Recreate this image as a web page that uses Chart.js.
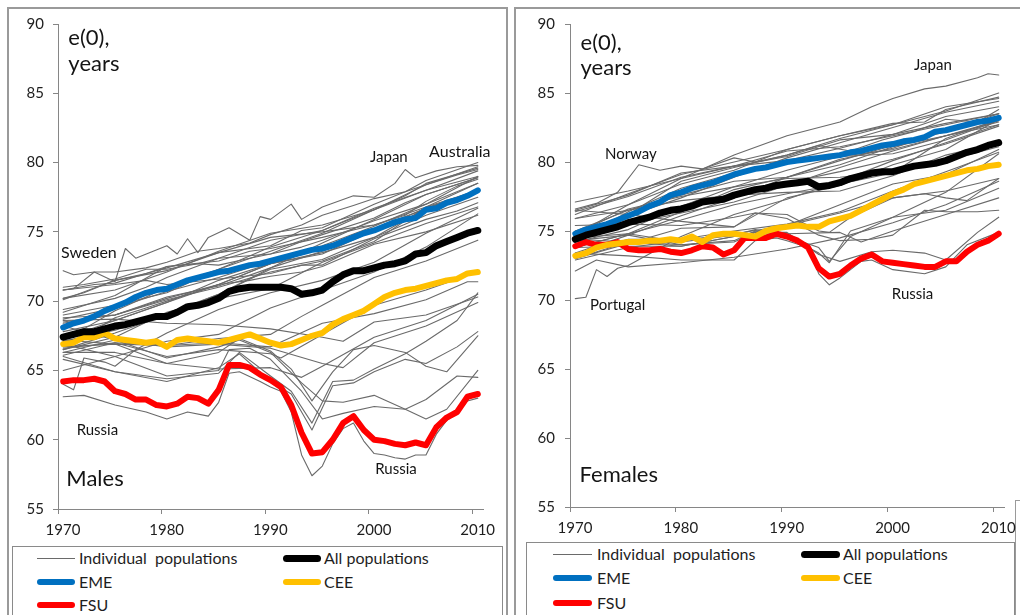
<!DOCTYPE html>
<html>
<head>
<meta charset="utf-8">
<script src="https://cdn.jsdelivr.net/npm/chart.js@4.4.1/dist/chart.umd.min.js"></script>
<style>
  html,body{margin:0;padding:0;background:#fff;}
  body{width:1020px;height:615px;overflow:hidden;position:relative;font-family:'Lato',sans-serif;color:#1e1e1e;}
  .panel{position:absolute;border:2px solid #9a9a9a;box-sizing:border-box;}
  canvas{position:absolute;top:0;}
  .legend{position:absolute;border:1.5px solid #8a8a8a;box-sizing:border-box;background:#fff;}
  .item{position:absolute;font-size:16px;line-height:18px;white-space:pre;}
  .sw{position:absolute;border-radius:4px;}
</style>
</head>
<body>
<div class="panel" style="left:7px;top:7px;width:501px;height:640px;"></div>
<div class="panel" style="left:514px;top:7px;width:540px;height:640px;"></div>
<div class="panel" style="left:1015px;top:500px;width:40px;height:200px;border-width:1.5px;"></div>
<canvas id="cM" width="510" height="545" style="left:0px;"></canvas>
<canvas id="cF" width="510" height="545" style="left:510px;"></canvas>
<div class="legend" id="legM" style="left:12px;top:546px;width:491px;height:90px;"></div>
<div class="legend" id="legF" style="left:526px;top:542px;width:489px;height:90px;"></div>
<script>
// ---------------- DATA ----------------
const years = [];
for (let y = 1970; y <= 2010; y++) years.push(y);
const yTicks = [55, 60, 65, 70, 75, 80, 85, 90];
const xTicks = [1970, 1980, 1990, 2000, 2010];
const seriesNames = ['Individual  populations', 'All populations', 'EME', 'CEE', 'FSU'];

// Males, group averages (1970..2010)
const maleAll = [67.4,67.6,67.8,67.8,68.0,68.2,68.3,68.5,68.7,68.9,68.9,69.2,69.6,69.7,69.9,70.2,70.7,70.9,71.0,71.0,71.0,71.0,70.9,70.5,70.6,70.8,71.4,71.9,72.2,72.2,72.4,72.6,72.7,72.9,73.4,73.5,74.0,74.3,74.6,74.9,75.1];
const maleEME = [68.1,68.4,68.6,68.9,69.3,69.6,69.9,70.3,70.6,70.8,70.9,71.2,71.5,71.7,71.9,72.1,72.2,72.4,72.6,72.7,72.9,73.1,73.3,73.5,73.7,73.8,74.0,74.3,74.6,74.9,75.1,75.4,75.7,75.9,76.0,76.6,76.7,77.1,77.3,77.6,78.0];
const maleCEE = [66.9,67.0,67.4,67.4,67.7,67.3,67.2,67.1,67.0,67.1,66.7,67.2,67.3,67.2,67.1,67.0,67.2,67.4,67.6,67.3,67.0,66.8,66.9,67.2,67.5,67.7,68.3,68.7,69.0,69.3,69.8,70.3,70.6,70.8,70.9,71.1,71.3,71.5,71.6,72.0,72.1];
const maleFSU = [64.2,64.3,64.3,64.4,64.2,63.5,63.3,62.9,62.9,62.5,62.4,62.6,63.1,63.0,62.6,63.6,65.4,65.4,65.2,64.7,64.3,63.8,62.5,60.5,59.0,59.1,60.0,61.2,61.7,60.7,60.0,59.9,59.7,59.6,59.8,59.6,60.9,61.6,62.0,63.1,63.3];

// Females, group averages (1970..2010)
const femaleAll = [74.4,74.7,74.9,75.1,75.3,75.6,75.8,76.0,76.3,76.5,76.6,76.8,77.1,77.2,77.3,77.6,77.8,78.0,78.1,78.3,78.4,78.5,78.6,78.2,78.3,78.5,78.8,79.0,79.2,79.3,79.3,79.5,79.7,79.8,79.9,80.1,80.4,80.7,80.9,81.2,81.4];
const femaleEME = [74.8,75.1,75.3,75.5,75.8,76.1,76.4,76.8,77.1,77.6,77.8,78.1,78.3,78.5,78.8,79.1,79.3,79.5,79.6,79.8,80.0,80.1,80.2,80.3,80.4,80.5,80.7,80.8,81.0,81.2,81.3,81.5,81.6,81.8,82.2,82.3,82.5,82.7,82.9,83.0,83.2];
const femaleCEE = [73.2,73.4,73.8,74.0,74.1,74.2,74.2,74.3,74.3,74.4,74.3,74.6,74.2,74.7,74.8,74.8,74.7,74.6,75.0,75.2,75.3,75.4,75.3,75.3,75.7,75.9,76.1,76.5,76.9,77.3,77.7,78.0,78.4,78.6,78.8,79.0,79.2,79.4,79.5,79.7,79.8];
const femaleFSU = [73.9,74.2,74.0,74.0,74.2,73.7,73.6,73.6,73.7,73.5,73.4,73.6,73.9,73.8,73.3,73.6,74.5,74.5,74.5,74.8,74.6,74.3,73.8,72.3,71.7,71.9,72.5,73.0,73.3,72.8,72.7,72.6,72.5,72.4,72.4,72.8,72.8,73.5,74.0,74.3,74.8];

// Individual populations, males: [year, e0]
const maleIndividual = [
 [[1970,70.8],[1971,70.9],[1973,72.1],[1975,71.4],[1976,73.8],[1977,73.1],[1980,74.0],[1981,73.4],[1982,74.5],[1983,73.5],[1984,74.6],[1986,75.3],[1988,74.4],[1989,76.1],[1990,75.9],[1992,77.0],[1993,75.9],[1995,76.8],[1998,77.6],[2000,77.5],[2002,78.5],[2003,79.5],[2004,78.9],[2006,79.4],[2008,79.7],[2010,79.8]],
 [[1970,72.2],[1971,71.9],[1973,72.1],[1975,72.1],[1978,72.4],[1980,72.8],[1983,73.6],[1985,73.8],[1988,74.2],[1990,74.8],[1993,75.5],[1995,76.2],[1998,76.9],[2000,77.4],[2003,77.9],[2005,78.4],[2008,79.1],[2010,79.5]],
 [[1970,70.8],[1973,71.2],[1975,71.3],[1978,72.0],[1980,72.5],[1985,72.9],[1988,73.6],[1990,73.8],[1995,74.6],[2000,75.5],[2003,76.2],[2005,77.2],[2008,78.3],[2010,78.8]],
 [[1970,71.0],[1972,71.2],[1975,71.6],[1978,72.3],[1980,72.3],[1983,72.7],[1985,72.6],[1988,73.1],[1990,73.4],[1993,74.3],[1995,74.8],[2000,76.0],[2003,77.1],[2005,77.7],[2010,78.9]],
 [[1970,70.8],[1975,71.2],[1978,71.5],[1980,71.2],[1985,71.6],[1990,72.0],[1993,72.6],[1995,72.6],[2000,74.5],[2005,75.9],[2008,76.5],[2010,77.1]],
 [[1970,70.2],[1972,70.6],[1975,71.5],[1978,72.0],[1980,72.4],[1985,73.5],[1990,74.0],[1993,75.1],[1995,75.3],[2000,77.0],[2003,77.9],[2005,78.7],[2010,80.0]],
 [[1970,67.4],[1972,68.0],[1975,69.3],[1978,70.3],[1980,71.0],[1985,72.3],[1990,73.9],[1995,75.1],[2000,76.6],[2003,77.6],[2005,78.5],[2010,79.6]],
 [[1970,69.4],[1975,70.2],[1978,71.0],[1980,71.7],[1985,73.1],[1990,74.4],[1995,75.1],[2000,76.7],[2005,78.0],[2010,79.0]],
 [[1970,67.1],[1972,67.4],[1975,68.8],[1978,69.5],[1980,70.0],[1985,71.2],[1988,71.5],[1990,71.8],[1993,72.1],[1995,72.5],[2000,74.1],[2005,75.0],[2010,76.2]],
 [[1970,68.7],[1975,69.5],[1980,70.7],[1985,71.7],[1990,72.9],[1995,74.0],[2000,75.4],[2005,77.0],[2010,78.5]],
 [[1970,68.4],[1973,68.8],[1975,69.0],[1980,70.2],[1985,71.2],[1990,72.7],[1995,73.8],[2000,75.2],[2003,75.8],[2005,76.7],[2010,78.0]],
 [[1970,69.0],[1975,69.7],[1980,70.6],[1985,72.3],[1990,73.6],[1995,74.9],[2000,76.6],[2005,78.0],[2010,79.4]],
 [[1970,69.2],[1975,70.4],[1980,72.5],[1983,72.7],[1985,73.1],[1990,73.4],[1993,73.9],[1995,74.4],[2000,75.8],[2005,77.0],[2010,79.0]],
 [[1970,67.3],[1975,68.6],[1980,69.9],[1985,71.5],[1990,72.7],[1995,73.4],[2000,75.1],[2005,76.7],[2010,77.9]],
 [[1970,66.5],[1975,67.7],[1980,69.0],[1985,70.5],[1990,72.4],[1995,73.6],[2000,75.2],[2005,76.7],[2010,77.9]],
 [[1970,67.8],[1975,68.6],[1980,69.9],[1985,71.2],[1990,72.7],[1995,73.5],[2000,74.6],[2005,76.2],[2010,77.5]],
 [[1970,66.5],[1975,67.4],[1980,69.2],[1985,70.2],[1990,70.9],[1995,72.8],[2000,74.2],[2005,75.6],[2010,76.8]],
 [[1970,64.0],[1971,63.6],[1972,65.9],[1974,65.6],[1975,65.3],[1977,66.5],[1980,67.7],[1985,69.4],[1990,70.6],[1995,71.5],[2000,72.8],[2005,74.9],[2010,76.7]],
 [[1970,68.8],[1975,69.0],[1980,70.1],[1985,71.0],[1990,72.1],[1995,72.9],[2000,74.3],[2005,76.8],[2010,78.5]],
 [[1970,68.5],[1975,69.0],[1980,70.3],[1985,71.1],[1990,72.4],[1995,74.2],[2000,75.9],[2005,77.7],[2010,78.9]],
 [[1970,70.2],[1975,70.8],[1980,72.1],[1985,73.6],[1990,74.9],[1995,75.5],[2000,76.6],[2005,78.4],[2010,79.7]],
 [[1970,67.1],[1975,67.9],[1980,69.1],[1985,70.5],[1990,72.3],[1995,73.0],[2000,74.6],[2005,76.7],[2010,77.9]],
 [[1970,70.1],[1975,71.5],[1980,72.2],[1985,73.5],[1990,74.6],[1995,75.0],[2000,75.5],[2005,76.8],[2010,78.0]],
 [[1970,66.1],[1975,67.0],[1980,66.8],[1985,67.3],[1990,67.6],[1993,68.9],[1995,69.7],[2000,71.7],[2005,72.9],[2010,74.4]],
 [[1970,66.6],[1975,67.0],[1980,66.0],[1985,66.5],[1990,66.2],[1991,65.9],[1995,67.6],[2000,69.7],[2005,70.8],[2010,72.1]],
 [[1970,66.3],[1975,66.3],[1980,65.5],[1985,65.1],[1990,65.2],[1993,64.5],[1995,65.3],[2000,67.4],[2005,68.6],[2010,70.5]],
 [[1970,66.7],[1975,66.9],[1980,66.8],[1985,67.0],[1990,66.7],[1995,68.4],[2000,69.1],[2005,70.1],[2009,71.4],[2010,71.4]],
 [[1970,68.6],[1975,68.7],[1980,68.4],[1985,68.3],[1990,68.0],[1995,67.4],[1997,67.1],[2000,68.5],[2005,69.0],[2010,70.3]],
 [[1970,65.0],[1975,66.0],[1980,67.1],[1985,67.6],[1990,69.5],[1995,70.8],[2000,72.1],[2005,73.9],[2010,76.3]],
 [[1970,66.3],[1975,67.2],[1980,66.7],[1985,66.9],[1990,66.6],[1995,65.5],[1997,65.2],[2000,67.0],[2005,68.2],[2010,69.9]],
 [[1970,63.1],[1972,63.2],[1975,62.5],[1978,62.0],[1980,61.5],[1982,62.0],[1984,61.7],[1985,62.7],[1986,64.8],[1987,64.9],[1989,64.2],[1990,63.8],[1991,63.5],[1992,62.0],[1993,58.9],[1994,57.4],[1995,58.1],[1996,59.7],[1997,60.8],[1998,61.2],[1999,59.9],[2000,59.0],[2001,58.9],[2002,58.7],[2003,58.6],[2004,58.9],[2005,58.9],[2006,60.4],[2007,61.4],[2008,61.9],[2009,62.8],[2010,63.0]],
 [[1970,66.9],[1975,66.0],[1980,64.6],[1985,65.0],[1986,66.5],[1988,66.6],[1990,65.8],[1993,63.5],[1995,61.5],[1997,61.9],[2000,62.4],[2003,62.2],[2005,61.5],[2007,62.2],[2010,65.0]],
 [[1970,68.2],[1975,67.2],[1980,65.9],[1985,66.7],[1987,67.2],[1990,66.3],[1993,64.1],[1995,62.8],[1997,62.7],[2000,63.2],[2003,62.2],[2005,62.9],[2008,64.6],[2010,64.5]],
 [[1970,67.2],[1975,66.9],[1980,65.5],[1985,66.3],[1987,67.3],[1990,66.4],[1992,65.1],[1994,62.8],[1996,64.9],[1998,66.5],[2000,66.8],[2003,66.3],[2005,65.3],[2007,64.9],[2010,67.5]],
 [[1970,66.0],[1975,64.9],[1980,64.2],[1985,65.2],[1987,66.2],[1990,64.2],[1992,63.3],[1994,60.7],[1996,63.9],[1998,64.1],[2000,64.9],[2003,65.8],[2005,65.5],[2008,66.7],[2010,67.8]],
 [[1970,65.8],[1975,64.9],[1980,64.4],[1985,64.8],[1987,66.3],[1990,64.6],[1992,63.5],[1994,61.2],[1996,64.2],[1998,64.3],[2000,65.1],[2003,66.2],[2005,67.1],[2008,68.6],[2010,70.6]]
];

// Individual populations, females: [year, e0]
const femaleIndividual = [
 [[1970,74.7],[1975,76.9],[1980,78.8],[1985,80.5],[1990,81.9],[1993,82.5],[1995,82.9],[1998,84.0],[2000,84.6],[2003,85.3],[2005,85.5],[2008,86.1],[2009,86.4],[2010,86.3]],
 [[1970,76.6],[1972,77.0],[1974,77.8],[1976,79.8],[1978,79.4],[1980,79.7],[1982,79.5],[1985,80.3],[1987,80.0],[1990,80.5],[1993,81.2],[1996,80.8],[1999,81.6],[2002,82.2],[2005,83.1],[2008,82.9],[2010,83.8]],
 [[1970,77.1],[1975,77.9],[1980,78.8],[1985,79.7],[1990,80.4],[1995,81.6],[2000,82.0],[2005,82.8],[2010,83.5]],
 [[1970,76.5],[1975,77.6],[1980,79.2],[1985,79.7],[1990,80.1],[1995,80.4],[2000,80.6],[2005,81.6],[2010,83.0]],
 [[1970,75.9],[1975,76.5],[1980,77.2],[1985,77.6],[1990,77.8],[1995,77.9],[2000,79.0],[2005,80.5],[2010,81.4]],
 [[1970,76.2],[1975,77.7],[1980,79.1],[1985,80.0],[1990,80.9],[1995,81.9],[2000,82.7],[2005,84.0],[2010,84.6]],
 [[1970,75.9],[1975,76.9],[1980,78.4],[1985,79.4],[1990,80.9],[1995,81.9],[2000,82.8],[2003,82.9],[2005,83.8],[2010,84.7]],
 [[1970,74.8],[1975,76.2],[1980,78.6],[1985,79.6],[1990,80.5],[1995,81.7],[2000,82.7],[2005,83.7],[2010,85.0]],
 [[1970,74.9],[1975,76.1],[1980,77.4],[1985,78.9],[1990,80.3],[1995,81.4],[2000,82.5],[2005,83.6],[2010,84.4]],
 [[1970,74.2],[1975,76.4],[1980,78.1],[1985,79.2],[1990,80.1],[1995,81.0],[2000,82.0],[2005,83.3],[2010,84.0]],
 [[1970,76.4],[1975,77.5],[1980,78.9],[1985,79.7],[1990,80.8],[1995,81.1],[2000,81.9],[2005,82.7],[2010,83.5]],
 [[1970,74.8],[1975,76.6],[1980,77.5],[1985,78.2],[1990,78.8],[1995,78.9],[2000,79.3],[2005,80.1],[2010,81.1]],
 [[1970,75.0],[1975,75.7],[1980,76.6],[1985,77.6],[1990,78.5],[1995,79.3],[2000,80.2],[2005,81.3],[2010,82.6]],
 [[1970,73.8],[1975,74.8],[1980,76.4],[1985,78.0],[1990,78.9],[1995,79.8],[2000,81.1],[2005,81.9],[2010,82.7]],
 [[1970,75.0],[1975,76.5],[1980,77.6],[1985,78.6],[1990,78.9],[1995,80.2],[2000,81.0],[2005,82.3],[2010,83.3]],
 [[1970,70.1],[1971,70.2],[1972,72.2],[1973,71.7],[1974,72.3],[1975,72.5],[1980,74.6],[1985,76.2],[1990,77.3],[1995,78.6],[2000,80.1],[2005,81.4],[2010,82.7]],
 [[1970,73.8],[1975,74.8],[1980,75.8],[1985,76.9],[1990,77.7],[1995,78.4],[2000,79.2],[2005,81.7],[2010,83.1]],
 [[1970,73.4],[1975,74.7],[1980,76.1],[1985,77.4],[1990,78.9],[1995,80.1],[2000,81.2],[2005,82.2],[2010,83.5]],
 [[1970,74.2],[1975,75.1],[1980,76.8],[1985,78.2],[1990,79.4],[1995,80.4],[2000,80.9],[2005,81.9],[2010,83.0]],
 [[1970,74.6],[1975,75.5],[1980,76.3],[1985,77.1],[1990,78.3],[1995,79.6],[2000,80.8],[2005,81.9],[2010,82.9]],
 [[1970,73.0],[1975,74.2],[1980,73.9],[1985,74.6],[1990,75.4],[1995,76.9],[2000,78.4],[2005,79.1],[2010,80.9]],
 [[1970,73.3],[1975,74.4],[1980,74.4],[1985,75.0],[1990,75.5],[1995,76.4],[2000,77.9],[2005,79.3],[2010,80.7]],
 [[1970,72.1],[1972,72.9],[1975,72.4],[1980,72.7],[1985,73.1],[1990,73.7],[1995,74.5],[2000,75.6],[2005,76.9],[2010,78.6]],
 [[1970,73.8],[1975,73.9],[1980,73.9],[1985,74.6],[1990,74.8],[1995,74.9],[1997,74.2],[2000,75.0],[2005,76.2],[2010,77.4]],
 [[1970,72.9],[1975,73.8],[1980,74.3],[1985,74.8],[1990,75.4],[1995,76.3],[2000,77.4],[2005,77.9],[2010,78.8]],
 [[1970,73.0],[1975,74.1],[1980,75.2],[1985,75.3],[1990,77.4],[1995,78.3],[2000,79.8],[2005,80.9],[2010,83.1]],
 [[1970,73.4],[1975,73.2],[1980,72.9],[1985,72.9],[1987,74.3],[1989,74.5],[1990,74.3],[1992,73.8],[1993,71.9],[1994,71.1],[1995,71.6],[1997,72.8],[1998,72.9],[2000,72.2],[2003,71.9],[2005,72.4],[2007,74.0],[2010,74.9]],
 [[1970,74.4],[1975,74.2],[1980,74.0],[1985,74.2],[1987,74.9],[1990,74.9],[1993,73.3],[1995,72.8],[1998,73.5],[2000,73.6],[2003,73.4],[2005,72.9],[2008,74.9],[2010,76.0]],
 [[1970,76.5],[1975,76.2],[1980,75.7],[1985,75.3],[1987,76.3],[1990,75.9],[1993,74.7],[1995,74.3],[1998,74.4],[2000,74.7],[2003,76.5],[2005,76.4],[2008,76.4],[2010,76.5]],
 [[1970,75.4],[1975,75.5],[1980,75.4],[1985,76.0],[1987,76.3],[1990,76.2],[1993,75.0],[1994,74.9],[1996,76.0],[2000,77.4],[2003,77.7],[2005,77.4],[2007,77.2],[2010,78.8]],
 [[1970,74.5],[1975,74.8],[1980,74.2],[1985,74.7],[1987,75.1],[1990,74.6],[1993,73.8],[1994,72.8],[1996,74.6],[2000,76.0],[2005,76.5],[2010,78.1]],
 [[1970,74.3],[1975,74.7],[1980,74.0],[1985,74.3],[1987,75.0],[1990,74.6],[1993,73.4],[1994,72.7],[1996,75.0],[2000,76.0],[2005,77.8],[2010,80.6]]
];

// Text annotations (placed in data coordinates)
const maleLabels = [
  {t:'e(0),', x:1971.0, y:89.0, s:22},
  {t:'years', x:1971.0, y:87.1, s:22},
  {t:'Sweden', x:1970.3, y:73.5, s:16},
  {t:'Japan', x:2000.1, y:80.4, s:15},
  {t:'Australia', x:2005.8, y:80.8, s:16},
  {t:'Russia', x:1971.8, y:60.7, s:15},
  {t:'Russia', x:2000.6, y:57.9, s:15},
  {t:'Males', x:1970.8, y:57.2, s:22}
];
const femaleLabels = [
  {t:'e(0),', x:1971.0, y:88.6, s:22},
  {t:'years', x:1971.0, y:86.8, s:22},
  {t:'Norway', x:1973.3, y:80.6, s:15},
  {t:'Japan', x:2002.5, y:87.0, s:15},
  {t:'Portugal', x:1971.9, y:69.6, s:15},
  {t:'Russia', x:2000.4, y:70.4, s:15},
  {t:'Females', x:1970.9, y:57.3, s:22}
];

// ---------------- CHART ----------------
const FONT = 'Lato';
const AXIS = '#868686';
const COLORS = {all:'#000000', eme:'#0070C0', cee:'#FFC000', fsu:'#FF0000', grey:'#6a6a6a'};

function labelPlugin(labels) {
  return {
    id: 'textLabels',
    afterDatasetsDraw(chart) {
      const ctx = chart.ctx, xs = chart.scales.x, ys = chart.scales.y;
      ctx.save();
      ctx.fillStyle = '#141414';
      ctx.textAlign = 'left';
      ctx.textBaseline = 'middle';
      labels.forEach(l => {
        ctx.font = l.s + 'px ' + FONT;
        ctx.fillText(l.t, xs.getPixelForValue(l.x), ys.getPixelForValue(l.y));
      });
      ctx.restore();
    }
  };
}

function buildDatasets(all, eme, cee, fsu, indiv) {
  const toPts = arr => arr.map((v, i) => ({x: years[i] + 0.5, y: v}));
  const ds = [
    {data: toPts(all), borderColor: COLORS.all, borderWidth: 7},
    {data: toPts(eme), borderColor: COLORS.eme, borderWidth: 6},
    {data: toPts(cee), borderColor: COLORS.cee, borderWidth: 6},
    {data: toPts(fsu), borderColor: COLORS.fsu, borderWidth: 6}
  ];
  indiv.forEach(line => ds.push({
    data: line.map(p => ({x: p[0] + 0.5, y: p[1]})),
    borderColor: COLORS.grey, borderWidth: 1.1
  }));
  return ds;
}

function makeChart(id, datasets, labels, geo) {
  return new Chart(document.getElementById(id), {
    type: 'line',
    data: {datasets},
    plugins: [labelPlugin(labels)],
    options: {
      responsive: false, animation: false, devicePixelRatio: 1,
      layout: {padding: {left: 0, top: geo.top, right: geo.right, bottom: 0}},
      plugins: {legend: {display: false}, tooltip: {enabled: false}},
      elements: {point: {radius: 0}, line: {tension: 0, borderJoinStyle: 'round', borderCapStyle: 'round', fill: false}},
      scales: {
        x: {
          type: 'linear', min: xTicks[0], max: 2011,
          afterFit: s => { s.height = geo.xh; },
          afterBuildTicks: s => { s.ticks = xTicks.map(v => ({value: v})); },
          ticks: {labelOffset: 5, padding: 7, color: '#1e1e1e', font: {family: FONT, size: 15}, callback: v => String(v), maxRotation: 0},
          grid: {display: true, drawOnChartArea: false, drawTicks: true, tickLength: 5, color: AXIS},
          border: {color: AXIS, width: 1}
        },
        y: {
          min: yTicks[0], max: yTicks[yTicks.length - 1],
          afterFit: s => { s.width = geo.yw; },
          afterBuildTicks: s => { s.ticks = yTicks.map(v => ({value: v})); },
          ticks: {padding: geo.ypad, color: '#1e1e1e', font: {family: FONT, size: 15}, callback: v => String(v)},
          grid: {display: true, drawOnChartArea: false, drawTicks: true, tickLength: 5, color: AXIS},
          border: {color: AXIS, width: 1}
        }
      }
    }
  });
}

makeChart('cM', buildDatasets(maleAll, maleEME, maleCEE, maleFSU, maleIndividual), maleLabels,
  {top: 24, right: 27, xh: 36, yw: 58, ypad: 9});
makeChart('cF', buildDatasets(femaleAll, femaleEME, femaleCEE, femaleFSU, femaleIndividual), femaleLabels,
  {top: 24, right: 16, xh: 38, yw: 60, ypad: 10});

// ---------------- LEGENDS (HTML) ----------------
function legend(id, L) {
  const el = document.getElementById(id);
  const sw = [
    {c: COLORS.grey, h: 1, x: L.c1s, y: L.r1, w: L.sw},
    {c: COLORS.all, h: 7, x: L.c2s, y: L.r1, w: L.sw},
    {c: COLORS.eme, h: 6, x: L.c1s, y: L.r2, w: L.sw},
    {c: COLORS.cee, h: 6, x: L.c2s, y: L.r2, w: L.sw},
    {c: COLORS.fsu, h: 6, x: L.c1s, y: L.r3, w: L.sw}
  ];
  const tx = [
    {x: L.c1t, y: L.r1}, {x: L.c2t, y: L.r1}, {x: L.c1t, y: L.r2}, {x: L.c2t, y: L.r2}, {x: L.c1t, y: L.r3}
  ];
  sw.forEach((s, i) => {
    const d = document.createElement('div');
    d.className = 'sw';
    d.style.cssText = `left:${s.x}px;top:${s.y - s.h / 2}px;width:${s.w}px;height:${s.h}px;background:${s.c};` + (s.h < 2 ? 'border-radius:0;' : '');
    el.appendChild(d);
    const t = document.createElement('div');
    t.className = 'item';
    t.textContent = seriesNames[i];
    t.style.left = tx[i].x + 'px';
    t.style.top = (tx[i].y - 9) + 'px';
    el.appendChild(t);
  });
}
legend('legM', {c1s: 24, c1t: 66, c2s: 270, c2t: 311, r1: 11, r2: 35, r3: 58, sw: 38});
legend('legF', {c1s: 26, c1t: 70, c2s: 274, c2t: 316, r1: 11, r2: 35, r3: 60, sw: 39});
</script>
</body>
</html>
